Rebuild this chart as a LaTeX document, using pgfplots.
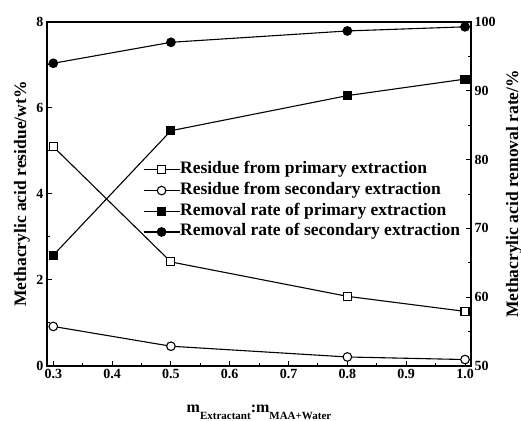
\documentclass[border=0pt]{standalone}
\usepackage{fontspec}
\setmainfont{Liberation Serif}
\usepackage{pgfplots}
\pgfplotsset{compat=1.18}

\pgfplotstableread{
x res1 res2 rem1 rem2
0.3 5.10 0.92 66.1 94.0
0.5 2.42 0.46 84.2 97.05
0.8 1.62 0.21 89.3 98.7
1.0 1.27 0.15 91.7 99.3
}\datatable

\begin{document}
\begin{tikzpicture}
\pgfplotsset{
  every axis/.append style={
    scale only axis, width=424bp, height=344bp,
    xmin=0.2893, xmax=1.0102,
    axis line style={line width=1.2bp},
    every tick/.style={line width=1bp, black},
    major tick length=5bp, minor tick length=3bp,
    tick align=inside,
    /pgf/number format/assume math mode=true,
    ticklabel style={font=\fontsize{14bp}{16bp}\selectfont\bfseries},
    label style={font=\fontsize{17.5bp}{20bp}\selectfont\bfseries},
  },
  legend image code/.code={%
    \draw[mark repeat=2,mark phase=2] plot coordinates {(0bp,0bp) (18bp,0bp) (36bp,0bp)};},
  ser/.style={black, line width=1.1bp, mark options={solid, line width=0.9bp}},
}
\begin{axis}[name=ax,
  xtick pos=lower, ytick pos=left,
  ymin=0, ymax=8,
  ytick={0,2,4,6,8}, minor ytick={1,3,5,7},
  xtick={0.3,0.4,0.5,0.6,0.7,0.8,0.9,1.0},
  minor xtick={0.35,0.45,0.55,0.65,0.75,0.85,0.95},
  xticklabel style={/pgf/number format/.cd, fixed, fixed zerofill, precision=1},
  ylabel={Methacrylic acid residue/wt\%},
  ylabel style={at={(axis description cs:-0.059,0.5)}, anchor=center},
  xlabel={\fontsize{16bp}{18bp}\selectfont m\raisebox{-7bp}{\fontsize{11bp}{12bp}\selectfont Extractant}:m\raisebox{-7bp}{\fontsize{11bp}{12bp}\selectfont MAA+Water}},
  xlabel style={at={(axis description cs:0.5,-0.134)}, anchor=base},
]
\addplot[ser, mark=square*, mark size=4bp, mark options={fill=white}] table[x=x, y=res1] {\datatable};
\addplot[ser, mark=*, mark size=4.3bp, mark options={fill=white}] table[x=x, y=res2] {\datatable};
\end{axis}
\begin{axis}[
  axis x line=none, axis y line*=right,
  ytick pos=right,
  ymin=50, ymax=100,
  ytick={50,60,70,80,90,100}, minor ytick={55,65,75,85,95},
  ylabel={Methacrylic acid removal rate/\%},
  ylabel style={at={(axis description cs:1.1014,0.5)}, anchor=center},
  legend style={at={(axis description cs:0.226,0.594)}, anchor=north west,
    draw=none, fill=none, inner sep=0pt,
    font=\fontsize{17.5bp}{20bp}\selectfont\bfseries,
    row sep=4.7bp,
    nodes={inner sep=0pt, text height=12bp, text depth=4bp},
    /tikz/every even column/.append style={column sep=8bp}},
  legend cell align=left,
]
\addlegendimage{ser, mark=square*, mark size=4bp, mark options={fill=white}}
\addlegendentry{Residue from primary extraction}
\addlegendimage{ser, mark=*, mark size=4.3bp, mark options={fill=white}}
\addlegendentry{Residue from secondary extraction}
\addplot[ser, mark=square*, mark size=4bp, mark options={fill=black}] table[x=x, y=rem1] {\datatable};
\addlegendentry{Removal rate of primary extraction}
\addplot[ser, mark=*, mark size=4.3bp, mark options={fill=black}] table[x=x, y=rem2] {\datatable};
\addlegendentry{Removal rate of secondary extraction}
\end{axis}
\pgfresetboundingbox
\path ([shift={(-47bp,-55bp)}]ax.south west) rectangle ([shift={(50bp,22bp)}]ax.north east);
\end{tikzpicture}
\end{document}
